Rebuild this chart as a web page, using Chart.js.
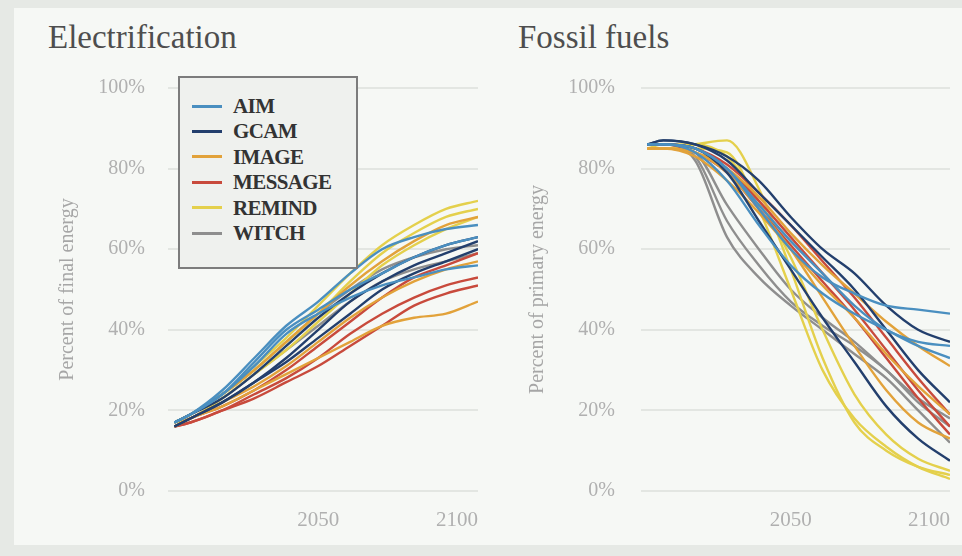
<!DOCTYPE html>
<html>
<head>
<meta charset="utf-8">
<script src="https://cdn.jsdelivr.net/npm/chart.js@4.4.1/dist/chart.umd.min.js"></script>
<style>
  html, body { margin: 0; padding: 0; }
  body { width: 962px; height: 556px; background: #e6e9e5; position: relative; overflow: hidden; font-family: "Liberation Serif", "DejaVu Serif", serif; }
  #panel { position: absolute; left: 14px; top: 8px; width: 948px; height: 537px; background: #f6f8f5; }
  .wrap { position: absolute; top: 0; width: 481px; height: 556px; }
  #wrapL { left: 0; }
  #wrapR { left: 481px; }
  .title { position: absolute; top: 21px; font-size: 33px; line-height: 33px; color: #4e4e4e; white-space: nowrap; }
  #legend { position: absolute; left: 178px; top: 76px; width: 176px; height: 173px; border: 2px solid #7c7c7c; background: #eff1ee; padding-top: 16px; box-sizing: content-box; }
  .row { height: 25.4px; line-height: 25.4px; font-weight: bold; font-size: 21px; color: #333; white-space: nowrap; letter-spacing: -0.6px; }
  .sw { display: inline-block; width: 30px; height: 3px; margin: 0 11px 0 12px; vertical-align: middle; position: relative; top: -2px; }
</style>
</head>
<body>
<div id="panel"></div>
<div class="title" style="left:48px">Electrification</div>
<div class="title" style="left:518px">Fossil fuels</div>
<div class="wrap" id="wrapL"><canvas id="elec" width="481" height="556"></canvas></div>
<div class="wrap" id="wrapR"><canvas id="fossil" width="481" height="556"></canvas></div>
<div id="legend"></div>
<script>
// Model years shared by every scenario
const years = [2005, 2010, 2020, 2030, 2040, 2050, 2060, 2070, 2080, 2090, 2100];
const models = ["AIM", "GCAM", "IMAGE", "MESSAGE", "REMIND", "WITCH"];
const xTickValues = [2050, 2100];
const yTickValues = [0, 20, 40, 60, 80, 100];

// Share of electricity in final energy (%), one row per scenario
const elecAIM = [
  [17, 19, 25, 33, 41, 47, 54, 60, 63, 65, 66],
  [17, 19, 24, 32, 40, 45, 50, 54, 58, 61, 63],
  [17, 19, 24, 31, 39, 44, 48, 51, 53, 55, 56]
];
const elecGCAM = [
  [17, 19, 23, 29, 36, 43, 49, 54, 58, 61, 63],
  [16, 18, 22, 27, 33, 40, 47, 52, 56, 59, 62],
  [16, 18, 22, 27, 32, 38, 44, 50, 54, 57, 60]
];
const elecIMAGE = [
  [17, 19, 24, 30, 37, 44, 51, 57, 62, 66, 68],
  [16, 18, 22, 26, 31, 37, 43, 48, 52, 55, 57],
  [16, 18, 21, 25, 29, 33, 37, 41, 43, 44, 47]
];
const elecMESSAGE = [
  [16, 18, 21, 25, 30, 36, 42, 48, 53, 56, 59],
  [16, 17, 20, 24, 28, 33, 39, 44, 48, 51, 53],
  [16, 17, 20, 23, 27, 31, 36, 41, 46, 49, 51]
];
const elecREMIND = [
  [17, 19, 24, 31, 38, 46, 54, 61, 66, 70, 72],
  [17, 19, 24, 30, 37, 44, 52, 59, 64, 68, 70],
  [17, 18, 23, 29, 35, 42, 49, 56, 61, 65, 68]
];
const elecWITCH = [
  [17, 19, 24, 30, 37, 44, 50, 55, 58, 60, 61],
  [17, 18, 23, 29, 35, 41, 47, 52, 55, 57, 59]
];

// Share of fossil fuels in primary energy (%), one row per scenario
const fossilAIM = [
  [86, 86, 85, 80, 70, 60, 53, 49, 46, 45, 44],
  [86, 86, 84, 77, 66, 56, 49, 44, 40, 36, 33],
  [86, 86, 85, 80, 71, 62, 54, 46, 40, 37, 36]
];
const fossilGCAM = [
  [86, 87, 86, 82, 74, 66, 58, 50, 40, 30, 22],
  [86, 86, 85, 79, 67, 55, 43, 32, 21, 13, 7.5],
  [86, 87, 86, 83, 77, 68, 60, 54, 46, 40, 37]
];
const fossilIMAGE = [
  [85, 85, 84, 80, 73, 64, 56, 49, 42, 36, 31],
  [85, 85, 83, 77, 69, 60, 51, 43, 34, 26, 19],
  [85, 85, 84, 79, 70, 60, 48, 36, 25, 17, 13]
];
const fossilMESSAGE = [
  [86, 86, 85, 80, 72, 63, 54, 45, 35, 25, 16],
  [86, 86, 84, 79, 70, 61, 52, 43, 33, 23, 14],
  [86, 86, 85, 81, 74, 66, 57, 48, 38, 28, 19]
];
const fossilREMIND = [
  [85, 85, 86, 87, 75, 55, 33, 17, 10, 6, 4],
  [85, 85, 85, 84, 70, 50, 30, 18, 11, 6, 3],
  [85, 86, 86, 83, 72, 58, 40, 24, 14, 8, 5]
];
const fossilWITCH = [
  [86, 86, 82, 63, 53, 46, 40, 34, 28, 20, 12],
  [86, 86, 83, 67, 56, 47, 41, 36, 30, 22, 16],
  [86, 86, 84, 71, 60, 50, 43, 37, 30, 23, 18]
];

// Line colour for each model
const modelColors = {
  AIM: "#4a8fc0",
  GCAM: "#233f6d",
  IMAGE: "#e2a23a",
  MESSAGE: "#c84a3c",
  REMIND: "#e4d04c",
  WITCH: "#8e8e8e"
};

const elecByModel = { AIM: elecAIM, GCAM: elecGCAM, IMAGE: elecIMAGE, MESSAGE: elecMESSAGE, REMIND: elecREMIND, WITCH: elecWITCH };
const fossilByModel = { AIM: fossilAIM, GCAM: fossilGCAM, IMAGE: fossilIMAGE, MESSAGE: fossilMESSAGE, REMIND: fossilREMIND, WITCH: fossilWITCH };

function buildDatasets(byModel) {
  const sets = [];
  models.forEach(m => {
    byModel[m].forEach(series => {
      sets.push({
        label: m,
        data: years.map((yr, i) => ({ x: yr, y: series[i] })),
        borderColor: modelColors[m],
        borderWidth: 2.4,
        pointRadius: 0,
        fill: false,
        cubicInterpolationMode: "monotone"
      });
    });
  });
  return sets;
}

const serif = "'Liberation Serif', 'DejaVu Serif', serif";

function makeChart(id, byModel, axisTitle, opts) {
  return new Chart(document.getElementById(id), {
    type: "line",
    data: { datasets: buildDatasets(byModel) },
    options: {
      responsive: false,
      animation: false,
      devicePixelRatio: 1,
      layout: { padding: { top: 88, left: 0, right: opts.rightPad, bottom: 0 } },
      plugins: { legend: { display: false }, tooltip: { enabled: false } },
      scales: {
        x: {
          type: "linear",
          min: 2003,
          max: 2100,
          border: { display: false },
          grid: { display: false, drawTicks: false },
          afterBuildTicks: s => { s.ticks = [{ value: 2000 }].concat(xTickValues.map(v => ({ value: v }))); },
          afterFit: s => { s.height = 65; s.paddingLeft = 0; s.paddingRight = 0; },
          ticks: {
            align: "inner",
            padding: 17,
            maxRotation: 0,
            autoSkip: false,
            color: "#b0b0b0",
            font: { family: serif, size: 21 },
            callback: v => (xTickValues.includes(v) ? String(v) : "")
          }
        },
        y: {
          min: 0,
          max: 100,
          border: { display: false },
          grid: { color: "#e3e6e2", lineWidth: 2, drawTicks: false },
          afterBuildTicks: s => { s.ticks = yTickValues.map(v => ({ value: v })); },
          afterFit: s => { s.width = opts.axisWidth; s.paddingTop = 0; s.paddingBottom = 0; },
          ticks: {
            padding: opts.tickPad,
            color: "#b0b0b0",
            font: { family: serif, size: 20 },
            callback: v => v + "%"
          },
          title: {
            display: true,
            text: axisTitle,
            color: "#a6a6a6",
            font: { family: serif, size: 20 },
            padding: { top: opts.titlePad, bottom: 0 }
          }
        }
      }
    }
  });
}

makeChart("elec", elecByModel, "Percent of final energy", { rightPad: 3, axisWidth: 168, tickPad: 23, titlePad: 56 });
makeChart("fossil", fossilByModel, "Percent of primary energy", { rightPad: 12, axisWidth: 160, tickPad: 26, titlePad: 45 });

// Model key shown over the electrification panel
const legendBox = document.getElementById("legend");
models.forEach(m => {
  const row = document.createElement("div");
  row.className = "row";
  const sw = document.createElement("span");
  sw.className = "sw";
  sw.style.background = modelColors[m];
  row.appendChild(sw);
  row.appendChild(document.createTextNode(m));
  legendBox.appendChild(row);
});
</script>
</body>
</html>
